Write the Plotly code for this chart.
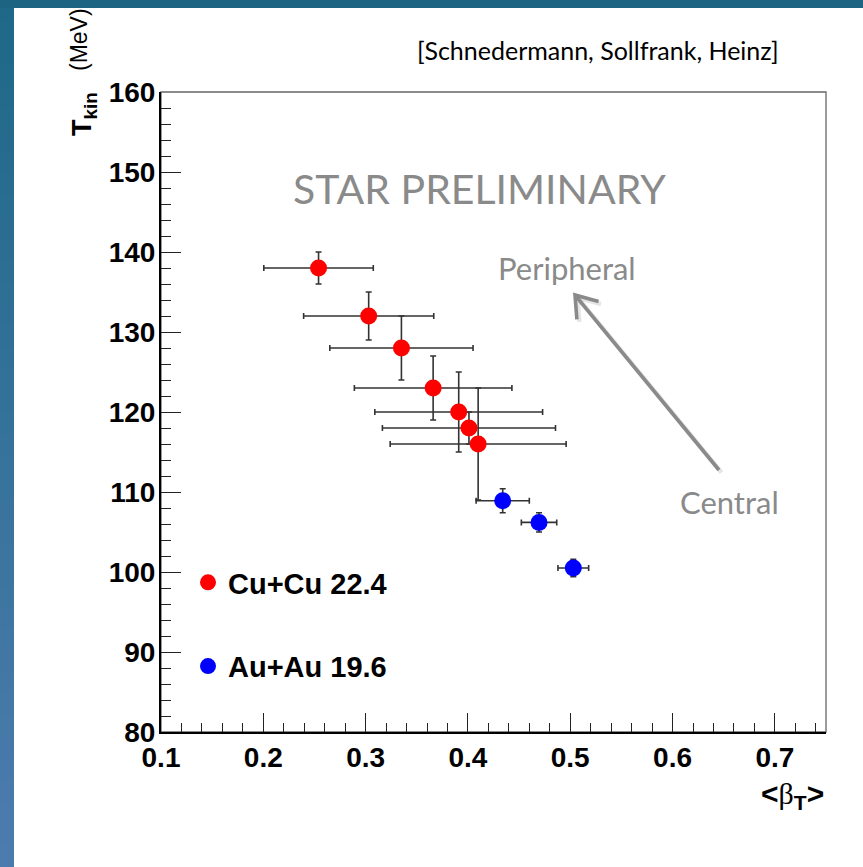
import math
import plotly.graph_objects as go

# Cu+Cu sqrt(s_NN) = 22.4 GeV, blast-wave fit results
cu_beta = [0.254, 0.303, 0.335, 0.366, 0.391, 0.401, 0.410]
cu_tkin = [138.0, 132.0, 128.0, 123.0, 120.0, 118.0, 116.0]
cu_beta_err = [0.0535, 0.0636, 0.070, 0.077, 0.082, 0.0846, 0.086]
cu_tkin_err = [2.0, 3.0, 4.0, 4.0, 5.0, 2.0, 7.0]

# Au+Au sqrt(s_NN) = 19.6 GeV
au_beta = [0.434, 0.4695, 0.503]
au_tkin = [108.9, 106.2, 100.5]
au_beta_err = [0.026, 0.0173, 0.015]
au_tkin_err = [1.5, 1.2, 1.1]

x_range = [0.1, 0.75]
y_range = [80, 160]

W, H = 863, 867
L, R, T, B = 161, 826, 92, 732

def px(xp):
    return (xp - L) / (R - L)

def py(yp):
    return (B - yp) / (B - T)

err_col = "#333333"
fig = go.Figure()

fig.add_trace(go.Scatter(
    x=cu_beta, y=cu_tkin, mode="markers", name="Cu+Cu 22.4",
    legendgroup="cu",
    marker=dict(color="#ff0000", size=17),
    error_x=dict(type="data", array=cu_beta_err, color=err_col, thickness=1.6, width=3),
    error_y=dict(type="data", array=cu_tkin_err, color=err_col, thickness=1.6, width=3),
))
fig.add_trace(go.Scatter(
    x=au_beta, y=au_tkin, mode="markers", name="Au+Au 19.6",
    legendgroup="au",
    marker=dict(color="#0000ff", size=17),
    error_x=dict(type="data", array=au_beta_err, color=err_col, thickness=1.6, width=3),
    error_y=dict(type="data", array=au_tkin_err, color=err_col, thickness=1.6, width=3),
))

# slide background bands (left and top edges)
shapes = []
n = 40
top_c = (31, 104, 135)
bot_c = (76, 124, 174)
for i in range(n):
    f = i / (n - 1)
    c = tuple(int(round(top_c[k] + (bot_c[k] - top_c[k]) * f)) for k in range(3))
    y0 = H * i / n
    y1 = H * (i + 1) / n + 1
    shapes.append(dict(type="rect", xref="paper", yref="paper",
                       x0=px(0), x1=px(14), y0=py(y1), y1=py(y0),
                       fillcolor="rgb(%d,%d,%d)" % c, line=dict(width=0), layer="below"))
shapes.append(dict(type="rect", xref="paper", yref="paper",
                   x0=px(0), x1=px(W), y0=py(8), y1=py(0),
                   fillcolor="rgb(29,100,130)", line=dict(width=0), layer="below"))
# thin grey frame on top and right
shapes.append(dict(type="rect", xref="paper", yref="paper", x0=0, x1=1, y0=0, y1=1,
                   line=dict(color="#666666", width=1.3), layer="below"))

# centrality arrow (pixel geometry converted to paper units)
grey = "#8a8a8a"
tail = (719.0, 470.0)
tip = (575.0, 295.0)
dx, dy = tip[0] - tail[0], tip[1] - tail[1]
ln = math.hypot(dx, dy)
ux, uy = dx / ln, dy / ln
nx, ny = -uy, ux
arm_back, arm_side = 20.0, 14.0
a1 = (tip[0] - arm_back * ux + arm_side * nx, tip[1] - arm_back * uy + arm_side * ny)
a2 = (tip[0] - arm_back * ux - arm_side * nx, tip[1] - arm_back * uy - arm_side * ny)

def arrow_shapes(off, color, width):
    o = off
    line_end = (tip[0] - 2 * ux, tip[1] - 2 * uy)
    return [
        dict(type="line", xref="paper", yref="paper",
             x0=px(tail[0] + o), y0=py(tail[1] + o),
             x1=px(line_end[0] + o), y1=py(line_end[1] + o),
             line=dict(color=color, width=width)),
        dict(type="path", xref="paper", yref="paper",
             path="M %f,%f L %f,%f L %f,%f" % (px(a1[0] + o), py(a1[1] + o),
                                               px(tip[0] + o), py(tip[1] + o),
                                               px(a2[0] + o), py(a2[1] + o)),
             line=dict(color=color, width=width)),
    ]

shapes += arrow_shapes(2.5, "rgba(0,0,0,0.10)", 4.5)
shapes += arrow_shapes(0.0, grey, 3.6)

annotations = [
    dict(text="<b>T<sub>kin</sub></b>",
         xref="paper", yref="paper", x=px(84), y=py(114), textangle=-90,
         xanchor="center", yanchor="middle", showarrow=False,
         font=dict(family="Liberation Sans", size=27, color="black")),
    dict(text="(MeV)",
         xref="paper", yref="paper", x=px(79), y=py(40), textangle=-90,
         xanchor="center", yanchor="middle", showarrow=False,
         font=dict(family="Liberation Sans", size=23, color="black")),
    dict(text="<b>&lt;</b><span style='font-family:Liberation Serif'>β</span><sub><b>T</b></sub><b>&gt;</b>",
         xref="paper", yref="paper", x=1.0, y=py(795),
         xanchor="right", yanchor="middle", showarrow=False,
         font=dict(family="Liberation Sans", size=30, color="black")),
    dict(text="[Schnedermann, Sollfrank, Heinz]",
         xref="paper", yref="paper", x=px(598), y=py(50),
         xanchor="center", yanchor="middle", showarrow=False,
         font=dict(family="Lato", size=25, color="black")),
    dict(text="STAR PRELIMINARY",
         xref="paper", yref="paper", x=px(479), y=py(188),
         xanchor="center", yanchor="middle", showarrow=False,
         font=dict(family="Lato", size=41, color=grey)),
    dict(text="Peripheral",
         xref="paper", yref="paper", x=px(567), y=py(268),
         xanchor="center", yanchor="middle", showarrow=False,
         font=dict(family="Lato", size=31, color=grey)),
    dict(text="Central",
         xref="paper", yref="paper", x=px(729), y=py(502),
         xanchor="center", yanchor="middle", showarrow=False,
         font=dict(family="Lato", size=31, color=grey)),
]

fig.update_layout(
    width=W, height=H, autosize=False,
    margin=dict(l=L, r=W - R, t=T, b=H - B, pad=0),
    paper_bgcolor="white", plot_bgcolor="rgba(0,0,0,0)",
    shapes=shapes, annotations=annotations,
    showlegend=True,
    legend=dict(x=px(188), y=py(557), xanchor="left", yanchor="top",
                bgcolor="rgba(0,0,0,0)", borderwidth=0,
                tracegroupgap=43,
                font=dict(family="Liberation Sans", size=29, color="black", weight="bold")),
    xaxis=dict(range=x_range, dtick=0.1, tick0=0.1, showgrid=False, zeroline=False,
               showline=True, linecolor="black", linewidth=2,
               ticks="inside", ticklen=19, tickwidth=1.3, tickcolor="#222222",
               tickformat=".1f", ticklabelstandoff=-1,
               tickfont=dict(family="Liberation Sans", size=28, color="black", weight="bold"),
               minor=dict(ticks="inside", ticklen=9, tickwidth=1.3, tickcolor="#222222",
                          dtick=0.02, tick0=0.1, showgrid=False)),
    yaxis=dict(range=y_range, dtick=10, tick0=80, showgrid=False, zeroline=False,
               showline=True, linecolor="black", linewidth=2,
               ticks="inside", ticklen=20, tickwidth=1.3, tickcolor="#222222",
               ticklabelstandoff=-2,
               tickfont=dict(family="Liberation Sans", size=28, color="black", weight="bold"),
               minor=dict(ticks="inside", ticklen=10, tickwidth=1.3, tickcolor="#222222",
                          dtick=2, tick0=80, showgrid=False)),
)

fig.write_html("out.html")
